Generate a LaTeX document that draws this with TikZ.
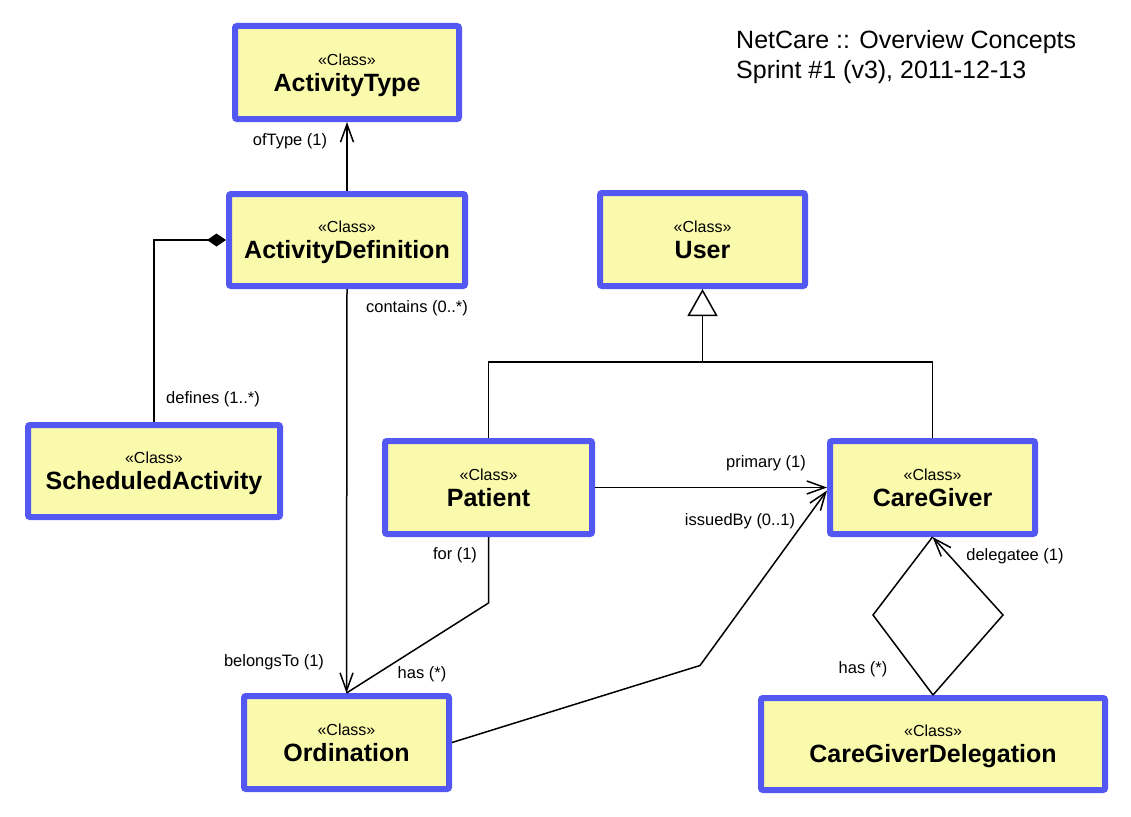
\documentclass[tikz,border=0pt]{standalone}
\usepackage{fontspec}
\setmainfont{Liberation Sans}
\usepackage{xcolor}
\usetikzlibrary{arrows.meta}
\definecolor{classblue}{RGB}{84,88,242}
\definecolor{classfill}{RGB}{250,250,172}
\newcommand{\umlclass}[1]{\rule{0pt}{17pt}«Class»\\{\fontsize{25}{26}\selectfont\bfseries #1\vphantom{Ay}}}

\begin{document}
\begin{tikzpicture}[x=1pt,y=-1pt,
    cls/.style={draw=classblue,fill=classfill,line width=6pt,rounded corners=2pt,inner sep=0pt,outer sep=3pt,align=center,font=\fontsize{16}{26}\selectfont},
    lbl/.style={font=\fontsize{16.5}{18}\selectfont,inner sep=0pt},
    line/.style={line width=1.5pt},
    assoc/.style={line width=1.5pt,-{Straight Barb[length=18pt,width=13pt]}},
    comp/.style={line width=1.5pt,-{Diamond[length=19pt,width=13pt]}},
    inh/.style={line width=1.5pt,-{Triangle[open,length=27pt,width=30pt,fill=white]}}]
              \useasboundingbox (0,0) rectangle (1131,816);
              \node[cls,minimum width=224,minimum height=93] (at) at (347,72.5) {\umlclass{ActivityType}};
              \node[cls,minimum width=236,minimum height=92] (ad) at (347,240) {\umlclass{ActivityDefinition}};
              \node[cls,minimum width=252,minimum height=92] (sa) at (154,471) {\umlclass{ScheduledActivity}};
              \node[cls,minimum width=205,minimum height=93] (user) at (702.5,239.5) {\umlclass{User}};
              \node[cls,minimum width=207,minimum height=93] (pat) at (488.5,487.5) {\umlclass{Patient}};
              \node[cls,minimum width=205,minimum height=93] (cg) at (932.5,487.5) {\umlclass{CareGiver}};
              \node[cls,minimum width=205,minimum height=93] (ord) at (346.5,742.5) {\umlclass{Ordination}};
              \node[cls,minimum width=344,minimum height=92] (cgd) at (933,744) {\umlclass{CareGiverDelegation}};
              \coordinate (gen) at (702.5,362);

              \draw[assoc] (ad.north) -- (at.south);
              \draw[comp] (sa.north) |- (ad.west);
              \draw[assoc] (ad.south) -- (ord.north);
              \draw[line] (pat.south) -- ++(0,66) -- (ord.north);
              \draw[line] (pat.north) |- (gen) -| (cg.north);
              \draw[inh] (gen) -- (user.south);
              \draw[assoc] (pat.east) -- (cg.west);
              \draw[assoc] (ord.east) -- ++(248,-77) -- ([yshift=-3pt]cg.west);
              \draw[line] (cgd.north) -- ++(-60,-80) -- (cg.south);
              \draw[assoc] (cgd.north) -- ++(70,-80) -- (cg.south);

              \node[lbl] (ltype) at (290,141) {ofType (1)};
              \node[lbl] (ldefines) at (213,399) {defines (1..*)};
              \node[lbl] (lcontains) at (417,308) {contains (0..*)};
              \node[lbl] (lbelongs) at (274,662) {belongsTo (1)};
              \node[lbl] (lfor) at (455,555) {for (1)};
              \node[lbl] (lhasord) at (422,674) {has (*)};
              \node[lbl] (lprimary) at (766,463) {primary (1)};
              \node[lbl] (lissued) at (740,521) {issuedBy (0..1)};
              \node[lbl] (ldelegatee) at (1015,556) {delegatee (1)};
              \node[lbl] (lhasdel) at (863,669) {has (*)};
              \node[anchor=west,align=left,inner sep=0pt,font=\fontsize{25}{30}\selectfont] (title) at (736,57) {NetCare :: Overview Concepts\\Sprint \#1 (v3), 2011-12-13};

            \end{tikzpicture}
\end{document}
